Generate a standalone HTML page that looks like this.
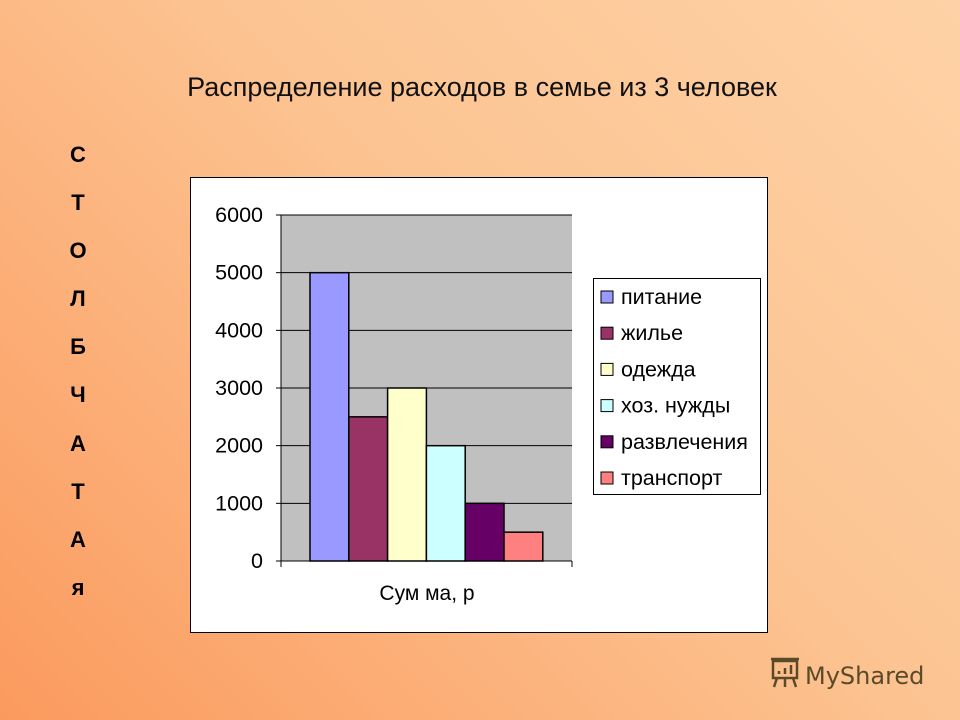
<!DOCTYPE html>
<html><head><meta charset="utf-8"><style>
body{margin:0;width:960px;height:720px;overflow:hidden;font-family:"Liberation Sans",sans-serif;}
#bg{position:absolute;left:0;top:0;width:960px;height:720px;background:linear-gradient(225deg,#fed2a6 0%,#fcc391 45%,#fb9a5e 100%);}
.t{position:absolute;}
</style></head><body>
<div id="bg"></div>
<div class="t" style="left:0;width:964px;top:72px;text-align:center;font-size:27px;color:#111;letter-spacing:0px;">Распределение расходов в семье из 3 человек</div>
<div class="t" style="left:58px;width:40px;top:131px;text-align:center;font-size:22px;font-weight:bold;line-height:48.1px;color:#000;">С<br>Т<br>О<br>Л<br>Б<br>Ч<br>А<br>Т<br>А<br>я</div>
<svg class="t" style="left:0;top:0" width="960" height="720" id="chart">
<rect x="190.5" y="177.5" width="577" height="455" fill="#fff" stroke="#000"/>
<rect x="281" y="215" width="291" height="346" fill="#c0c0c0"/>
<g id="g"></g>
<text x="427" y="600" text-anchor="middle" font-size="21" font-family="Liberation Sans">Сум ма, р</text>
<rect x="593.5" y="278.5" width="167" height="216" fill="#fff" stroke="#000"/>
<g id="lg"></g>
</svg>
<svg class="t" style="left:765px;top:655px" width="170" height="40">
<g fill="none" stroke="#5a4a2a" stroke-width="2.5"><rect x="8" y="6" width="24" height="17"/><path d="M6 4h28M12 23l-3 9M20 23v9M28 23l3 9"/><path d="M14 19v-3M20 19v-6M26 19v-9"/></g>
<text x="40" y="29" font-size="24" fill="#5a4a2a" font-family="DejaVu Sans">MyShared</text>
</svg>
<script>
const categories=["питание","жилье","одежда","хоз. нужды","развлечения","транспорт"];
const values=[5000,2500,3000,2000,1000,500];
const colors=["#9999ff","#993366","#ffffcc","#ccffff","#660066","#ff8080"];
const ticks=[0,1000,2000,3000,4000,5000,6000];
const NS="http://www.w3.org/2000/svg";
const y0=561,y1=215,vmax=6000;
const y=v=>y0-(y0-y1)*v/vmax;
const bx=i=>310+i*38.8;
const g=document.getElementById('g'),lg=document.getElementById('lg');
function mk(tag,a,p){const e=document.createElementNS(NS,tag);for(const k in a)e.setAttribute(k,a[k]);p.appendChild(e);return e;}
ticks.forEach(t=>{
 if(t>0){const l=mk('line',{x1:281,x2:572,y1:y(t),y2:y(t),stroke:'#000'},g);
 
 }
 mk('line',{x1:276,x2:281,y1:y(t),y2:y(t),stroke:'#000'},g);
 const tx=mk('text',{x:263,y:y(t)+7,'text-anchor':'end','font-size':21.5,'font-family':'Liberation Sans'},g);
 tx.textContent=t;
 
 
});
mk('line',{x1:281,x2:281,y1:215,y2:561,stroke:'#000'},g);
mk('line',{x1:281,x2:572,y1:561,y2:561,stroke:'#000'},g);
mk('line',{x1:281,x2:281,y1:561,y2:567,stroke:'#000'},g);
mk('line',{x1:572,x2:572,y1:561,y2:567,stroke:'#000'},g);
values.forEach((v,i)=>{
 const r=mk('rect',{x:bx(i),y:y(v),width:38.8,height:y0-y(v),fill:colors[i],stroke:'#000','stroke-width':1.5},g);
 
 
});
categories.forEach((c,i)=>{
 const yy=297+i*36.2;
 const s=mk('rect',{x:601,y:yy-6,width:12,height:12,fill:colors[i],stroke:'#000'},lg);
 
 
 const tx=mk('text',{x:621,y:yy+7,'font-size':21.5,'font-family':'Liberation Sans'},lg);
 tx.textContent=c;
 
 
});
</script>
</body></html>
